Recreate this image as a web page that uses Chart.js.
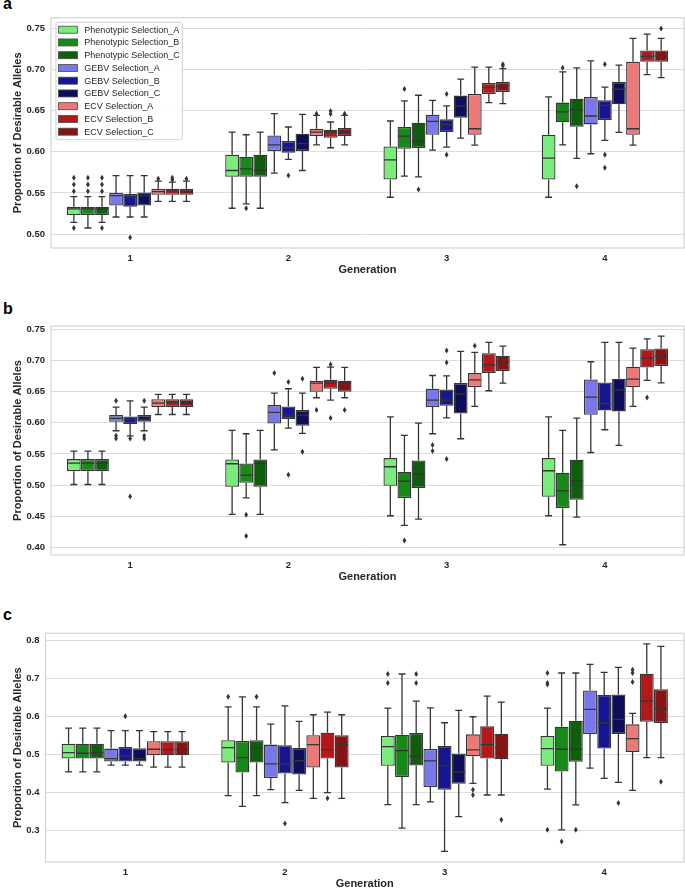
<!DOCTYPE html>
<html><head><meta charset="utf-8">
<script src="https://cdn.jsdelivr.net/npm/chart.js@4.4.0/dist/chart.umd.min.js"></script>
<style>
html,body{margin:0;padding:0;background:#fff;overflow:hidden;width:685px;height:889px;}
canvas{position:absolute;left:0;}
.lbl{position:absolute;left:3px;font:bold 16px "Liberation Sans",Arial,sans-serif;line-height:16px;color:#000;}
</style></head><body>
<div class="lbl" style="top:-4px">a</div>
<div class="lbl" style="top:301px">b</div>
<div class="lbl" style="top:607px">c</div>
<canvas id="ca" width="685" height="278" style="top:0px"></canvas>
<canvas id="cb" width="685" height="295" style="top:290px"></canvas>
<canvas id="cc" width="685" height="292" style="top:600px"></canvas>
<script>
// ---------- categories / series ----------
const generations = ['1', '2', '3', '4'];
const seriesLabels = ['Phenotypic Selection_A', 'Phenotypic Selection_B', 'Phenotypic Selection_C',
  'GEBV Selection_A', 'GEBV Selection_B', 'GEBV Selection_C',
  'ECV Selection_A', 'ECV Selection_B', 'ECV Selection_C'];

// each entry per generation: [lower whisker, Q1, median, Q3, upper whisker]
// ---------- panel a ----------
const a_PhenA = [[0.5142,0.5232,0.5305,0.5333,0.5455],[0.5313,0.5695,0.5772,0.5963,0.6240],[0.5447,0.5663,0.5902,0.6065,0.6374],[0.5447,0.5663,0.5923,0.6207,0.6667]];
const a_PhenB = [[0.5073,0.5232,0.5305,0.5333,0.5455],[0.5366,0.5695,0.5793,0.5939,0.6207],[0.5703,0.6037,0.6191,0.6301,0.6618],[0.6085,0.6358,0.6484,0.6598,0.6972]];
const a_PhenC = [[0.5142,0.5232,0.5305,0.5333,0.5455],[0.5313,0.5695,0.5772,0.5963,0.6240],[0.5695,0.6045,0.6130,0.6354,0.6687],[0.5919,0.6305,0.6512,0.6646,0.7020]];
const a_GebvA = [[0.5207,0.5346,0.5467,0.5500,0.5711],[0.5740,0.6008,0.6085,0.6199,0.6463],[0.6020,0.6207,0.6370,0.6451,0.6626],[0.5976,0.6333,0.6435,0.6667,0.7106]];
const a_GebvB = [[0.5207,0.5333,0.5447,0.5488,0.5711],[0.5907,0.5988,0.6049,0.6130,0.6301],[0.6057,0.6240,0.6329,0.6394,0.6557],[0.6138,0.6386,0.6565,0.6626,0.6785]];
const a_GebvC = [[0.5207,0.5346,0.5467,0.5504,0.5711],[0.5772,0.6008,0.6098,0.6220,0.6455],[0.6167,0.6415,0.6557,0.6683,0.6882],[0.6236,0.6577,0.6760,0.6850,0.7053]];
const a_EcvA  = [[0.5398,0.5476,0.5516,0.5549,0.5642],[0.6085,0.6191,0.6240,0.6280,0.6443],[0.6081,0.6207,0.6280,0.6703,0.7028],[0.6081,0.6207,0.6280,0.7093,0.7378]];
const a_EcvB  = [[0.5398,0.5476,0.5524,0.5549,0.5630],[0.6049,0.6171,0.6240,0.6268,0.6362],[0.6598,0.6703,0.6785,0.6837,0.7028],[0.6939,0.7093,0.7159,0.7232,0.7431]];
const a_EcvC  = [[0.5398,0.5476,0.5520,0.5549,0.5642],[0.6085,0.6191,0.6232,0.6289,0.6443],[0.6585,0.6728,0.6797,0.6850,0.7012],[0.6902,0.7093,0.7167,0.7232,0.7378]];
const a_PhenA_out = [[0.5683,0.5602,0.5520,0.5073],[],[],[]];
const a_PhenB_out = [[0.5683,0.5602,0.5520],[0.5313],[0.6764],[0.7020]];
const a_PhenC_out = [[0.5683,0.5602,0.5520,0.5073],[],[0.5541],[0.5581]];
const a_GebvA_out = [[],[],[],[]];
const a_GebvB_out = [[0.4959],[0.5711],[0.6703,0.5963],[0.7065,0.5963,0.5805]];
const a_GebvC_out = [[],[],[],[]];
const a_EcvA_out  = [[0.5671],[0.6463],[],[]];
const a_EcvB_out  = [[0.5683,0.5659],[0.6496,0.6460],[],[]];
const a_EcvC_out  = [[0.5671],[0.6463],[0.7065,0.7045],[0.7500]];
const a_ticks = [0.50, 0.55, 0.60, 0.65, 0.70, 0.75];
const a_range = [0.483, 0.763];

// ---------- panel b ----------
const b_PhenA = [[0.5010,0.5224,0.5353,0.5417,0.5545],[0.4530,0.4973,0.5342,0.5411,0.5876],[0.4509,0.4989,0.5294,0.5433,0.6095],[0.4509,0.4813,0.5230,0.5433,0.6095]];
const b_PhenB = [[0.5010,0.5224,0.5353,0.5417,0.5545],[0.4797,0.5037,0.5160,0.5347,0.5823],[0.4354,0.4792,0.5064,0.5214,0.5796],[0.4044,0.4631,0.4909,0.5198,0.5876]];
const b_PhenC = [[0.5010,0.5224,0.5353,0.5417,0.5545],[0.4530,0.4973,0.5347,0.5411,0.5876],[0.4455,0.4952,0.5176,0.5395,0.5994],[0.4487,0.4765,0.5064,0.5406,0.6074]];
const b_GebvA = [[0.5871,0.6015,0.6068,0.6122,0.6250],[0.5566,0.5988,0.6165,0.6282,0.6474],[0.5823,0.6250,0.6362,0.6544,0.6757],[0.5523,0.6127,0.6410,0.6693,0.6977]];
const b_GebvB = [[0.5790,0.5978,0.6047,0.6100,0.6351],[0.5913,0.6058,0.6111,0.6261,0.6544],[0.6079,0.6271,0.6362,0.6533,0.6752],[0.5887,0.6197,0.6309,0.6645,0.7286]];
const b_GebvC = [[0.5871,0.6015,0.6058,0.6122,0.6250],[0.5828,0.5951,0.6122,0.6202,0.6474],[0.5743,0.6148,0.6458,0.6635,0.7142],[0.5636,0.6181,0.6522,0.6704,0.7286]];
const b_EcvA  = [[0.6132,0.6250,0.6314,0.6378,0.6453],[0.6400,0.6496,0.6635,0.6672,0.6886],[0.6261,0.6571,0.6688,0.6795,0.7126],[0.6261,0.6571,0.6699,0.6896,0.7195]];
const b_EcvB  = [[0.6132,0.6250,0.6325,0.6378,0.6453],[0.6362,0.6544,0.6640,0.6688,0.6891],[0.6512,0.6795,0.6928,0.7115,0.7286],[0.6677,0.6886,0.7035,0.7179,0.7345]];
const b_EcvC  = [[0.6132,0.6250,0.6325,0.6378,0.6453],[0.6400,0.6496,0.6635,0.6672,0.6886],[0.6635,0.6827,0.6976,0.7073,0.7228],[0.6640,0.6907,0.7067,0.7190,0.7388]];
const b_PhenA_out = [[],[],[],[]];
const b_PhenB_out = [[],[0.4525,0.4183],[0.4113],[]];
const b_PhenC_out = [[],[],[],[]];
const b_GebvA_out = [[0.6351,0.5790,0.5748],[0.6795],[0.5641,0.5545],[]];
const b_GebvB_out = [[0.5748,0.4818],[0.6651,0.5166],[0.7158,0.6966,0.5417],[]];
const b_GebvC_out = [[0.6351,0.5790,0.5748],[0.6704,0.5534],[],[]];
const b_EcvA_out  = [[],[0.6202],[0.7233],[]];
const b_EcvB_out  = [[],[0.6934,0.6074],[],[0.6405]];
const b_EcvC_out  = [[],[0.6202],[],[]];
const b_ticks = [0.40, 0.45, 0.50, 0.55, 0.60, 0.65, 0.70, 0.75];
const b_range = [0.388, 0.755];

// ---------- panel c ----------
const c_PhenA = [[0.4538,0.4888,0.5045,0.5281,0.5692],[0.3909,0.4783,0.5177,0.5369,0.6252],[0.3673,0.4696,0.5203,0.5483,0.6217],[0.4084,0.4696,0.5150,0.5483,0.6217]];
const c_PhenB = [[0.4538,0.4888,0.5028,0.5281,0.5692],[0.3629,0.4521,0.4914,0.5351,0.6514],[0.3052,0.4399,0.5098,0.5517,0.7117],[0.3009,0.4547,0.5133,0.5727,0.7143]];
const c_PhenC = [[0.4538,0.4888,0.5045,0.5281,0.5692],[0.3909,0.4783,0.5177,0.5369,0.6252],[0.3673,0.4705,0.4941,0.5561,0.6400],[0.3664,0.4801,0.5133,0.5885,0.7143]];
const c_GebvA = [[0.4713,0.4810,0.4888,0.5150,0.5622],[0.4066,0.4372,0.4748,0.5255,0.5797],[0.3743,0.4136,0.4827,0.5142,0.6226],[0.4635,0.5535,0.6182,0.6680,0.7371]];
const c_GebvB = [[0.4713,0.4810,0.4958,0.5194,0.5622],[0.3725,0.4495,0.4748,0.5238,0.6278],[0.2441,0.4066,0.4696,0.5220,0.5832],[0.4364,0.5150,0.5832,0.6566,0.7161]];
const c_GebvC = [[0.4713,0.4810,0.4888,0.5159,0.5622],[0.4049,0.4469,0.4830,0.5168,0.5867],[0.3358,0.4224,0.4538,0.5019,0.6156],[0.4259,0.5535,0.5920,0.6575,0.7292]];
const c_EcvA  = [[0.4661,0.4976,0.5133,0.5343,0.5596],[0.3839,0.4652,0.5255,0.5500,0.6042],[0.4232,0.4949,0.5115,0.5526,0.5990],[0.4049,0.5063,0.5413,0.5789,0.6077]];
const c_EcvB  = [[0.4661,0.4976,0.5124,0.5343,0.5596],[0.3988,0.4888,0.5124,0.5570,0.6112],[0.3927,0.4888,0.5255,0.5736,0.6531],[0.4914,0.5858,0.6409,0.7126,0.7913]];
const c_EcvC  = [[0.4661,0.4976,0.5124,0.5343,0.5596],[0.3839,0.4652,0.5255,0.5500,0.6042],[0.3927,0.4871,0.5177,0.5544,0.6374],[0.4914,0.5823,0.6199,0.6715,0.7843]];
const c_PhenA_out = [[],[0.6514],[0.7117,0.6881],[0.7143,0.6881,0.6837,0.3009]];
const c_PhenB_out = [[],[],[],[0.2703]];
const c_PhenC_out = [[],[0.6514],[0.7117,0.6881],[0.3009]];
const c_GebvA_out = [[],[],[],[]];
const c_GebvB_out = [[0.6000],[0.3175],[],[]];
const c_GebvC_out = [[],[],[],[0.3717]];
const c_EcvA_out  = [[],[],[0.4066,0.3927],[0.7231,0.7143,0.6907]];
const c_EcvB_out  = [[],[0.3839],[],[]];
const c_EcvC_out  = [[],[],[0.3271],[0.4276]];
const c_ticks = [0.3, 0.4, 0.5, 0.6, 0.7, 0.8];
const c_range = [0.216, 0.819];

// ---------- styles ----------
const seriesColors = ['#7aec7a', '#168a16', '#0e5e0e', '#7878ec', '#161693', '#0e0e5c', '#ec7878', '#b41818', '#861414'];
const EDGE = '#353535';
const FONT = '"Liberation Sans", Arial, sans-serif';
const TXT = '#262626';

const framePlugin = {
  id: 'frame',
  beforeDatasetsDraw(chart) {
    const {ctx, chartArea: a} = chart;
    ctx.save();
    ctx.strokeStyle = '#d4d4d4';
    ctx.lineWidth = 1.2;
    ctx.strokeRect(a.left, a.top, a.right - a.left, a.bottom - a.top);
    ctx.restore();
  }
};

const boxPlugin = {
  id: 'boxdetail',
  afterDatasetsDraw(chart) {
    const ctx = chart.ctx, ys = chart.scales.y;
    ctx.save();
    ctx.strokeStyle = EDGE; ctx.fillStyle = EDGE; ctx.lineWidth = 1.3;
    chart.data.datasets.forEach((ds, di) => {
      const meta = chart.getDatasetMeta(di);
      meta.data.forEach((bar, i) => {
        const s = ds.stats[i];
        const x = bar.x, w = bar.width, cw = w * 0.5;
        const pLow = ys.getPixelForValue(s[0]), pQ1 = ys.getPixelForValue(s[1]),
              pMed = ys.getPixelForValue(s[2]), pQ3 = ys.getPixelForValue(s[3]),
              pHigh = ys.getPixelForValue(s[4]);
        ctx.beginPath();
        ctx.moveTo(x, pQ1); ctx.lineTo(x, pLow);
        ctx.moveTo(x, pQ3); ctx.lineTo(x, pHigh);
        ctx.moveTo(x - cw / 2, pLow); ctx.lineTo(x + cw / 2, pLow);
        ctx.moveTo(x - cw / 2, pHigh); ctx.lineTo(x + cw / 2, pHigh);
        ctx.moveTo(x - w / 2 + 0.6, pMed); ctx.lineTo(x + w / 2 - 0.6, pMed);
        ctx.stroke();
        (ds.outliers[i] || []).forEach(v => {
          const py = ys.getPixelForValue(v);
          ctx.beginPath();
          ctx.moveTo(x, py - 3); ctx.lineTo(x + 1.9, py); ctx.lineTo(x, py + 3); ctx.lineTo(x - 1.9, py);
          ctx.closePath(); ctx.fill();
        });
      });
    });
    ctx.restore();
  }
};

const legendPlugin = {
  id: 'boxlegend',
  afterDraw(chart) {
    const ctx = chart.ctx;
    const x0 = 56, y0 = 22.3, w = 126.3, h = 117.4;
    ctx.save();
    ctx.fillStyle = 'rgba(255,255,255,0.85)';
    ctx.strokeStyle = '#cfcfcf';
    ctx.lineWidth = 1;
    ctx.beginPath();
    ctx.roundRect(x0, y0, w, h, 2);
    ctx.fill(); ctx.stroke();
    ctx.font = '9px ' + FONT;
    ctx.textBaseline = 'middle';
    chart.data.datasets.forEach((ds, k) => {
      const cy = 29.7 + k * 12.75;
      ctx.fillStyle = ds.backgroundColor;
      ctx.fillRect(58.5, cy - 3.5, 19, 7);
      ctx.strokeStyle = '#4a4a4a';
      ctx.lineWidth = 0.8;
      ctx.strokeRect(58.5, cy - 3.5, 19, 7);
      ctx.fillStyle = TXT;
      ctx.fillText(ds.label, 84.3, cy + 0.5);
    });
    ctx.restore();
  }
};

function makeChart(id, stats, outs, range, ticks, decimals, padTop, leftW, withLegend) {
  const plugins = [framePlugin, boxPlugin];
  if (withLegend) plugins.push(legendPlugin);
  return new Chart(document.getElementById(id), {
    type: 'bar',
    data: {
      labels: generations,
      datasets: seriesLabels.map((lab, k) => ({
        label: lab,
        data: stats[k].map(s => [s[1], s[3]]),
        stats: stats[k],
        outliers: outs[k],
        backgroundColor: seriesColors[k],
        borderColor: EDGE,
        borderWidth: 1.3,
        borderSkipped: false,
        categoryPercentage: 0.8,
        barPercentage: 0.98
      }))
    },
    options: {
      responsive: false,
      animation: false,
      layout: {padding: {top: padTop, right: 1, left: 0, bottom: 0}},
      plugins: {legend: {display: false}, tooltip: {enabled: false}},
      scales: {
        x: {
          grid: {display: false, drawTicks: false},
          border: {display: false},
          ticks: {font: {family: FONT, size: 9.5, weight: 'bold'}, color: TXT, padding: 4.5},
          title: {display: true, text: 'Generation', font: {family: FONT, size: 11, weight: 'bold'}, color: TXT, padding: {top: 0, bottom: 1.4}},
          afterFit(s) { s.height = 30; }
        },
        y: {
          min: range[0], max: range[1],
          grid: {color: '#dcdcdc', lineWidth: 1, drawTicks: false},
          border: {display: false},
          ticks: {font: {family: FONT, size: 9.5, weight: 'bold'}, color: TXT, padding: 6,
                  callback: v => Number(v).toFixed(decimals)},
          afterBuildTicks(s) { s.ticks = ticks.map(v => ({value: v})); },
          title: {display: true, text: 'Proportion of Desirable Alleles', font: {family: FONT, size: 11, weight: 'bold'}, color: TXT, padding: {top: 11.7, bottom: 0}},
          afterFit(s) { s.width = leftW; }
        }
      }
    },
    plugins: plugins
  });
}

makeChart('ca',
  [a_PhenA, a_PhenB, a_PhenC, a_GebvA, a_GebvB, a_GebvC, a_EcvA, a_EcvB, a_EcvC],
  [a_PhenA_out, a_PhenB_out, a_PhenC_out, a_GebvA_out, a_GebvB_out, a_GebvC_out, a_EcvA_out, a_EcvB_out, a_EcvC_out],
  a_range, a_ticks, 2, 17.7, 51, true);
makeChart('cb',
  [b_PhenA, b_PhenB, b_PhenC, b_GebvA, b_GebvB, b_GebvC, b_EcvA, b_EcvB, b_EcvC],
  [b_PhenA_out, b_PhenB_out, b_PhenC_out, b_GebvA_out, b_GebvB_out, b_GebvC_out, b_EcvA_out, b_EcvB_out, b_EcvC_out],
  b_range, b_ticks, 2, 36, 51, false);
makeChart('cc',
  [c_PhenA, c_PhenB, c_PhenC, c_GebvA, c_GebvB, c_GebvC, c_EcvA, c_EcvB, c_EcvC],
  [c_PhenA_out, c_PhenB_out, c_PhenC_out, c_GebvA_out, c_GebvB_out, c_GebvC_out, c_EcvA_out, c_EcvB_out, c_EcvC_out],
  c_range, c_ticks, 1, 33.3, 45.5, false);
</script>
</body></html>
